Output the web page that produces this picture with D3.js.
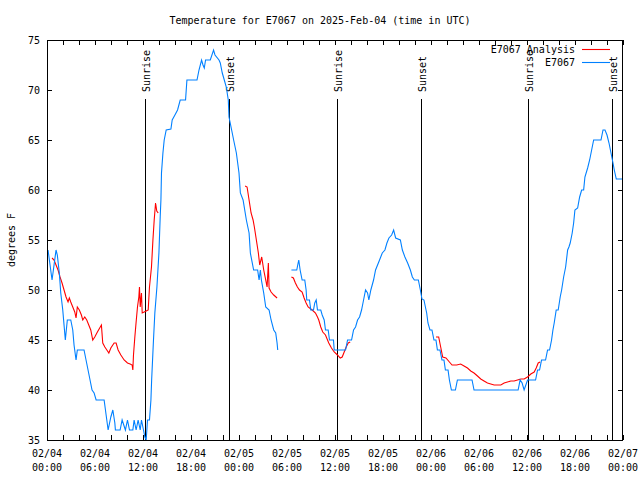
<!DOCTYPE html>
<html><head><meta charset="utf-8">
<script src="https://cdn.jsdelivr.net/npm/d3@7"></script>
<style>
body{margin:0;background:#fff}
text{font-family:"DejaVu Sans Mono","Liberation Mono",monospace;font-size:10px;fill:#000}
</style>
</head><body>
<svg id="chart" width="640" height="480"></svg>
<script>
// ---- data (hours after 2025-02-04 00:00 UTC, degrees F) ----
const startUTC = Date.UTC(2025, 1, 4, 0, 0);
const titleText = "Temperature for E7067 on 2025-Feb-04 (time in UTC)";
const yLabel = "degrees F";
const seriesNames = ["E7067 Analysis", "E7067"];
const yTicks = [35, 40, 45, 50, 55, 60, 65, 70, 75];
const xLabelHours = [0, 6, 12, 18, 24, 30, 36, 42, 48, 54, 60, 66, 72];
const sunHours = [12.31, 22.72, 36.3, 46.72, 60.17, 70.6];
const sunLabels = ["Sunrise", "Sunset", "Sunrise", "Sunset", "Sunrise", "Sunset"];

const obsSeg1 = [[0.13,54],[0.38,52.5],[0.63,51],[0.88,52.5],[1.13,54],[1.29,53.5],[1.54,51.7],[1.72,49.7],[1.97,48],[2.13,46.5],[2.29,45],[2.54,47],[2.97,47],[3.22,46],[3.38,44.5],[3.63,43],[3.79,44],[4.63,44],[4.88,43],[5.13,42],[5.38,41],[5.63,40],[5.89,39.7],[6.14,39],[7.14,39],[7.39,37.5],[7.64,36],[7.98,37.3],[8.23,38],[8.48,36.7],[8.55,36],[9.14,36],[9.39,37],[9.80,36],[10.06,37],[10.31,36],[10.73,36],[10.89,37],[11.14,36],[11.39,37],[11.65,36],[11.81,37],[12.06,36],[12.23,35.3],[12.40,35],[12.56,37],[12.81,37],[12.99,39],[13.08,41],[13.31,45],[13.48,47.7],[13.74,50.3],[13.99,53.7],[14.15,57.3],[14.24,59],[14.31,61.7],[14.49,63.7],[14.65,65],[14.90,66],[15.49,66.1],[15.65,67],[15.99,67.5],[16.32,68],[16.65,69],[17.32,69],[17.49,71],[18.75,71],[19.00,72],[19.32,73],[19.50,72.5],[19.66,72.2],[19.82,73],[20.41,73],[20.82,74],[21.00,73.5],[21.50,73],[21.66,72.7],[21.91,71.7],[22.16,71],[22.41,70.3],[22.66,69],[22.75,67.3],[23.08,66],[23.33,65],[23.67,63.7],[24.00,61.7],[24.17,59.7],[24.51,59],[24.92,57],[25.26,55.7],[25.42,53.7],[25.83,52],[26.33,52],[26.51,51],[26.67,52],[26.80,51],[27.09,49.7],[27.34,48.3],[27.76,48],[28.01,47],[28.34,46],[28.59,45.7],[28.76,44.7],[28.84,44]];
const obsSeg2 = [[30.55,52],[31.22,52],[31.39,52.7],[31.47,53],[31.64,52],[31.89,51],[32.22,51],[32.39,50],[32.47,49],[32.81,49],[32.97,48],[33.31,48],[33.47,48.7],[33.65,49],[33.81,48],[34.22,48],[34.40,47.5],[34.65,47],[34.81,46],[35.15,46],[35.31,45],[35.81,45],[35.90,44],[37.32,44],[37.57,45],[38.07,45],[38.32,46],[38.57,46.3],[38.82,47],[39.07,47.3],[39.32,48],[39.57,49],[39.82,50],[40.07,49.7],[40.23,49],[40.48,50],[40.82,51],[41.07,52],[41.57,53],[41.91,53.7],[42.24,54],[42.49,54.7],[42.74,55.2],[43.08,55.5],[43.33,56],[43.58,55.2],[44.17,55],[44.42,54],[44.74,53.3],[45.08,52.7],[45.42,52],[45.67,51.3],[45.92,51],[46.42,51],[46.67,50],[46.87,49.1],[47.12,49],[47.30,48.3],[47.46,47.7],[47.62,46.7],[47.87,46],[48.12,46],[48.37,45],[48.62,45],[48.80,44],[49.12,44],[49.37,43],[49.62,43],[49.80,42],[50.13,42],[50.30,41],[50.55,40],[51.05,40],[51.30,41],[53.13,41],[53.38,40],[58.89,40],[59.14,41],[59.39,40.7],[59.64,40],[60.07,41],[61.07,41],[61.32,42],[61.57,42],[61.82,43],[62.32,43],[62.57,44],[62.82,44],[63.07,45],[63.24,46],[63.40,46.7],[63.65,48],[63.90,48],[64.15,49.3],[64.33,50],[64.58,51.3],[64.83,52.3],[65.08,54],[65.24,54.3],[65.40,54.7],[65.65,55.7],[65.83,56.7],[65.99,58],[66.33,58.2],[66.58,59.3],[66.83,60],[67.08,60],[67.24,61.3],[67.58,62.2],[67.83,63],[68.08,64],[68.33,65],[69.25,65],[69.50,66],[69.75,66],[70.00,65.5],[70.25,64.7],[70.50,63.7],[70.75,62.7],[70.91,62],[71.16,61.1],[71.91,61.1]];

const anaSeg1 = [[0.63,53.2],[0.88,53],[1.13,52.5],[1.38,52],[1.63,51.3],[1.88,50.7],[2.13,50],[2.38,49.3],[2.63,48.8],[2.79,49.2],[2.97,48.8],[3.22,48.3],[3.47,47.8],[3.63,47.2],[3.79,48.3],[4.04,48],[4.30,47.5],[4.47,47],[4.72,47.3],[4.97,47],[5.22,46.5],[5.47,46],[5.72,45],[5.97,45.3],[6.30,45.8],[6.80,46.5],[6.97,44.7],[7.23,44.3],[7.48,44],[7.73,43.7],[7.98,44.2],[8.39,44.7],[8.64,44.7],[8.89,44],[9.23,43.5],[9.64,43],[10.06,42.7],[10.39,42.6],[10.64,42.5],[10.73,42],[10.81,43.5],[10.98,45.3],[11.14,46.8],[11.31,48.3],[11.48,49.3],[11.56,50.3],[11.65,48.3],[11.81,49.7],[11.90,47.7],[12.15,47.8],[12.40,47.9],[12.65,48],[12.81,50.3],[13.06,52.3],[13.24,55],[13.40,57],[13.57,58.7],[13.72,57.9],[13.90,57.7]];
const anaSeg2 = [[24.76,60.4],[25.01,60.3],[25.26,59],[25.51,57.7],[25.76,57],[25.92,56.3],[26.17,55],[26.42,53.7],[26.59,52.5],[26.84,53.3],[27.09,52],[27.34,51],[27.51,50.3],[27.67,52.7],[27.76,50.2],[28.01,49.8],[28.34,49.5],[28.76,49.2]];
const anaSeg3 = [[30.55,51.3],[30.80,51.2],[31.05,50.7],[31.30,50.3],[31.56,50],[31.89,49.8],[32.14,49.2],[32.39,48.7],[32.64,48.3],[33.15,48],[33.56,47.7],[33.81,47.3],[33.97,47],[34.22,46.3],[34.47,45.8],[34.81,45.5],[35.22,44.7],[35.56,44.2],[35.90,43.8],[36.31,43.5],[36.65,43.2],[36.90,43.3],[37.15,43.8],[37.40,44.3],[37.65,44.7],[37.90,44.8]];
const anaSeg4 = [[48.62,45.3],[48.96,45.3],[49.21,44.3],[49.46,43.3],[49.87,43.2],[50.30,42.8],[50.63,42.5],[51.21,42.5],[51.71,42.6],[52.13,42.4],[52.56,42.2],[52.97,41.9],[53.38,41.7],[53.81,41.4],[54.22,41.1],[54.63,40.9],[55.06,40.7],[55.47,40.6],[55.89,40.5],[56.73,40.5],[57.14,40.7],[57.56,40.8],[57.98,40.9],[58.39,40.9],[58.81,41],[59.23,41.1],[59.64,41.1],[60.07,41.3],[60.48,41.6],[60.90,41.8],[61.15,42.2],[61.40,42.7],[61.65,42.8]];

const obsSegments = [obsSeg1, obsSeg2];
const anaSegments = [anaSeg1, anaSeg2, anaSeg3, anaSeg4];
const colors = {analysis: "#ff0000", obs: "#0080ff"};

// ---- chart ----
const svg = d3.select("#chart");
const L = 47, R = 623, T = 40, B = 440;
const toDate = h => new Date(startUTC + h * 3600000);
const x = d3.scaleUtc().domain([toDate(0), toDate(72)]).range([L, R]);
const y = d3.scaleLinear().domain([35, 75]).range([B, T]);

// title
svg.append("text").attr("x", 320).attr("y", 24).attr("text-anchor", "middle").text(titleText);
// y label
svg.append("text").attr("transform", "translate(15,240) rotate(-90)").attr("text-anchor", "middle").text(yLabel);

// axes (ticks inward, mirrored)
const xTickVals = d3.range(0, 73, 2).map(toDate);
const mkAxis = (g, axis) => { g.call(axis); g.select(".domain").remove(); g.selectAll("line").attr("stroke", "#000").attr("shape-rendering", "crispEdges"); };
mkAxis(svg.append("g").attr("transform", `translate(0,${B})`), d3.axisBottom(x).tickValues(xTickVals).tickSize(-5).tickFormat(""));
mkAxis(svg.append("g").attr("transform", `translate(0,${T})`), d3.axisTop(x).tickValues(xTickVals).tickSize(-5).tickFormat(""));
const gy = svg.append("g").attr("transform", `translate(${L},0)`);
gy.call(d3.axisLeft(y).tickValues(yTicks).tickSize(-5).tickPadding(7).tickFormat(d3.format("d")));
gy.select(".domain").remove();
gy.selectAll("line").attr("stroke", "#000").attr("shape-rendering", "crispEdges");
gy.selectAll("text").style("font-family", '"DejaVu Sans Mono",monospace').style("font-size", "10px").attr("fill", "#000");
mkAxis(svg.append("g").attr("transform", `translate(${R},0)`), d3.axisRight(y).tickValues(yTicks).tickSize(-5).tickFormat(""));

// x tick labels (two lines)
const fmtDay = d3.utcFormat("%m/%d"), fmtTime = d3.utcFormat("%H:%M");
const xl = svg.append("g").selectAll("text").data(xLabelHours.map(toDate)).join("text")
  .attr("text-anchor", "middle").attr("x", d => x(d));
xl.append("tspan").attr("x", d => x(d)).attr("y", 457).text(d => fmtDay(d));
xl.append("tspan").attr("x", d => x(d)).attr("y", 471).text(d => fmtTime(d));

// sunrise / sunset lines
const sun = svg.append("g").selectAll("g").data(sunHours.map((h, i) => ({d: toDate(h), label: sunLabels[i]}))).join("g");
sun.append("line").attr("x1", d => Math.round(x(d.d)) + 0.5).attr("x2", d => Math.round(x(d.d)) + 0.5)
  .attr("y1", y(69.1)).attr("y2", B).attr("stroke", "#000").attr("stroke-width", 1);
sun.append("text").attr("text-anchor", "start")
  .attr("transform", d => `translate(${Math.round(x(d.d)) + 4.5},92) rotate(-90)`).text(d => d.label);

// data lines
const line = d3.line().x(d => x(toDate(d[0]))).y(d => y(d[1]));
svg.append("g").selectAll("path").data(anaSegments).join("path")
  .attr("d", line).attr("fill", "none").attr("stroke", colors.analysis).attr("stroke-width", 1.1);
svg.append("g").selectAll("path").data(obsSegments).join("path")
  .attr("d", line).attr("fill", "none").attr("stroke", colors.obs).attr("stroke-width", 1.1);

// border
svg.append("rect").attr("x", L + 0.5).attr("y", T + 0.5).attr("width", R - L - 1).attr("height", B - T)
  .attr("fill", "none").attr("stroke", "#000").attr("shape-rendering", "crispEdges");

// legend
const legend = [{name: seriesNames[0], c: colors.analysis, yy: 49.5}, {name: seriesNames[1], c: colors.obs, yy: 62.5}];
const lg = svg.append("g").selectAll("g").data(legend).join("g");
lg.append("text").attr("x", 575).attr("y", d => d.yy + 3.5).attr("text-anchor", "end").text(d => d.name);
lg.append("line").attr("x1", 582).attr("x2", 610).attr("y1", d => d.yy).attr("y2", d => d.yy)
  .attr("stroke", d => d.c).attr("stroke-width", 1.1);
</script>
</body></html>
